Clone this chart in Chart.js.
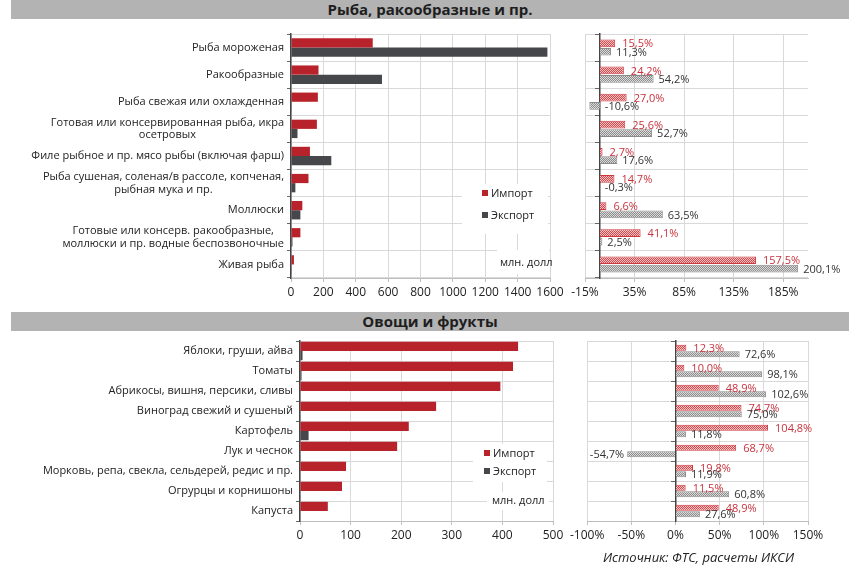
<!DOCTYPE html>
<html>
<head>
<meta charset="utf-8">
<script src="https://cdn.jsdelivr.net/npm/chart.js@4.4.1/dist/chart.umd.min.js"></script>
<style>
  body { margin: 0; background: #fff; font-family: "Open Sans", sans-serif; }
  #page { position: relative; width: 854px; height: 581px; overflow: hidden; }
  canvas { position: absolute; }
  .band { position: absolute; left: 11px; width: 838px; height: 19px; background: #b3b3b3;
          font-weight: bold; font-size: 15px; color: #1e1e1e; text-align: center; line-height: 19px; }
  .cover { position: absolute; background: #fff; }
  .leg { position: absolute; font-size: 11px; line-height: 16px; color: #222; white-space: nowrap; }
  .leg i { display: inline-block; width: 6px; height: 6px; margin-right: 3px; vertical-align: 1px; }
  .source { position: absolute; left: 603px; top: 548px; font-style: italic; font-size: 13px; color: #222; }
</style>
</head>
<body>
<div id="page">
  <div class="band" style="top:0">Рыба, ракообразные и пр.</div>
  <div class="band" style="top:312px">Овощи и фрукты</div>

  <canvas id="fishValue" width="570" height="276" style="left:0;top:28px"></canvas>
  <canvas id="fishGrowth" width="287" height="276" style="left:567px;top:28px"></canvas>
  <canvas id="vegValue" width="570" height="215" style="left:0;top:333px"></canvas>
  <canvas id="vegGrowth" width="287" height="215" style="left:567px;top:333px"></canvas>

  <!-- легенды и подписи внутри области графика -->
  <div class="cover" style="left:462px;top:184px;width:86px;height:50px"></div>
  <div class="leg" style="left:482px;top:185px"><i style="background:#b8232b"></i>Импорт</div>
  <div class="leg" style="left:482px;top:207px"><i style="background:#46474b"></i>Экспорт</div>
  <div class="cover" style="left:497px;top:250px;width:52px;height:24px"></div>
  <div class="leg" style="left:500px;top:254px">млн. долл</div>

  <div class="cover" style="left:473px;top:444px;width:74px;height:38px"></div>
  <div class="leg" style="left:484px;top:445px"><i style="background:#b8232b"></i>Импорт</div>
  <div class="leg" style="left:484px;top:463px"><i style="background:#46474b"></i>Экспорт</div>
  <div class="cover" style="left:487px;top:492px;width:62px;height:18px"></div>
  <div class="leg" style="left:492px;top:492px">млн. долл</div>

  <div class="source">Источник: ФТС, расчеты ИКСИ</div>
</div>

<script>
// --- данные ---
const fishCats = [
  "Рыба мороженая",
  "Ракообразные",
  "Рыба свежая или охлажденная",
  ["Готовая или консервированная рыба, икра", "осетровых"],
  "Филе рыбное и пр. мясо рыбы (включая фарш)",
  ["Рыба сушеная, соленая/в рассоле, копченая,", "рыбная мука и пр."],
  "Моллюски",
  ["Готовые или консерв. ракообразные,", "моллюски и пр. водные беспозвоночные"],
  "Живая рыба"
];
const fishImport = [505, 170, 166, 160, 117, 108, 70, 58, 18];
const fishExport = [1584, 562, 2, 40, 249, 27, 58, 9, 4];
const fishImportGrowth = [15.5, 24.2, 27.0, 25.6, 2.7, 14.7, 6.6, 41.1, 157.5];
const fishExportGrowth = [11.3, 54.2, -10.6, 52.7, 17.6, -0.3, 63.5, 2.5, 200.1];
const fishValueTicks = [0, 200, 400, 600, 800, 1000, 1200, 1400, 1600];
const fishGrowthTicks = [-15, 35, 85, 135, 185];

const vegCats = [
  "Яблоки, груши, айва",
  "Томаты",
  "Абрикосы, вишня, персики, сливы",
  "Виноград свежий и сушеный",
  "Картофель",
  "Лук и чеснок",
  "Морковь, репа, свекла, сельдерей, редис и пр.",
  "Огрурцы и корнишоны",
  "Капуста"
];
const vegImport = [431, 421, 396, 269, 215, 192, 91, 83, 55];
const vegExport = [5, 3, 1, 1, 17, 1, 1, 1, 1];
const vegImportGrowth = [12.3, 10.0, 48.9, 74.7, 104.8, 68.7, 19.8, 11.5, 48.9];
const vegExportGrowth = [72.6, 98.1, 102.6, 75.0, 11.8, -54.7, 11.9, 60.8, 27.6];
const vegValueTicks = [0, 100, 200, 300, 400, 500];
const vegGrowthTicks = [-100, -50, 0, 50, 100, 150];

const RED = "#b8232b";
const DARK = "#46474b";
const GRID = "#d9d9d9";

Chart.defaults.font.family = '"Open Sans", sans-serif';
Chart.defaults.color = "#222";

// штриховка для столбцов прироста
function makePattern(bg, fg) {
  const c = document.createElement("canvas");
  c.width = c.height = 2;
  const x = c.getContext("2d");
  x.fillStyle = bg;
  x.fillRect(0, 0, 2, 2);
  x.fillStyle = fg;
  x.fillRect(0, 0, 1, 1);
  x.fillRect(1, 1, 1, 1);
  return x.createPattern(c, "repeat");
}

const fmtPct = (v) => v.toFixed(1).replace(".", ",") + "%";

// подписи категорий: блок прижат вправо, строки внутри блока по центру (как в Excel)
const catLabels = {
  id: "catLabels",
  afterDraw(chart) {
    const ctx = chart.ctx;
    const y = chart.scales.y;
    const right = y.right - 7;
    ctx.save();
    ctx.font = '11px "Open Sans", sans-serif';
    ctx.fillStyle = "#222";
    ctx.textAlign = "center";
    ctx.textBaseline = "middle";
    chart.data.labels.forEach((lab, i) => {
      const lines = Array.isArray(lab) ? lab : [lab];
      const w = Math.max(...lines.map((l) => ctx.measureText(l).width));
      const cy = y.getPixelForTick(i);
      const lh = 12.5;
      lines.forEach((l, k) => {
        ctx.fillText(l, right - w / 2, cy + (k - (lines.length - 1) / 2) * lh);
      });
    });
    ctx.restore();
  }
};

// подписи значений у столбцов прироста
const growthLabels = {
  id: "growthLabels",
  afterDatasetsDraw(chart) {
    const ctx = chart.ctx;
    ctx.save();
    ctx.font = '11px "Open Sans", sans-serif';
    ctx.textBaseline = "middle";
    chart.data.datasets.forEach((ds, i) => {
      chart.getDatasetMeta(i).data.forEach((bar, j) => {
        const v = ds.data[j];
        ctx.fillStyle = ds.labelColor;
        if (v < -20) {
          ctx.textAlign = "right";
          ctx.fillText(fmtPct(v), bar.x - 3, bar.y + 1);
        } else {
          ctx.textAlign = "left";
          ctx.fillText(fmtPct(v), Math.max(bar.x, bar.base) + ds.labelGap, bar.y + 1);
        }
      });
    });
    ctx.restore();
  }
};

function valueChart(id, cats, imp, exp, ticks, catPct, yWidth, pad) {
  return new Chart(document.getElementById(id), {
    type: "bar",
    data: {
      labels: cats,
      datasets: [
        { label: "Импорт", data: imp, backgroundColor: RED, barPercentage: 1, categoryPercentage: catPct },
        { label: "Экспорт", data: exp, backgroundColor: DARK, barPercentage: 1, categoryPercentage: catPct }
      ]
    },
    options: {
      indexAxis: "y",
      responsive: false,
      animation: false,
      layout: { padding: pad },
      plugins: { legend: { display: false }, tooltip: { enabled: false } },
      scales: {
        x: {
          min: ticks[0],
          max: ticks[ticks.length - 1],
          afterBuildTicks: (s) => { s.ticks = ticks.map((v) => ({ value: v })); },
          grid: { color: GRID, tickLength: 4, tickColor: "#bfbfbf" },
          border: { color: "#bfbfbf" },
          ticks: { font: { size: 12 }, padding: 3, maxRotation: 0, callback: (v) => String(v) },
          afterFit: (s) => { s.height = 22; }
        },
        y: {
          grid: { color: GRID, tickLength: 4, tickColor: "#666" },
          border: { color: "#444", width: 1.5 },
          ticks: { display: false },
          afterFit: (s) => { s.width = yWidth; }
        }
      }
    },
    plugins: [catLabels]
  });
}

function growthChart(id, imp, exp, ticks, min, max, catPct, pad) {
  const ctx = document.getElementById(id);
  return new Chart(ctx, {
    type: "bar",
    data: {
      labels: imp.map((_, i) => i),
      datasets: [
        {
          label: "Импорт", data: imp,
          backgroundColor: makePattern("#f3c2c2", "#d4484e"), borderColor: "#cc3a40", borderWidth: 1,
          barPercentage: 0.92, categoryPercentage: catPct, labelColor: "#c8323c", labelGap: 7
        },
        {
          label: "Экспорт", data: exp,
          backgroundColor: makePattern("#dadada", "#8c8c8c"), borderColor: "#8a8a8a", borderWidth: 1,
          barPercentage: 0.92, categoryPercentage: catPct, labelColor: "#333", labelGap: 5
        }
      ]
    },
    options: {
      indexAxis: "y",
      responsive: false,
      animation: false,
      layout: { padding: pad },
      plugins: { legend: { display: false }, tooltip: { enabled: false } },
      scales: {
        x: {
          min: min,
          max: max,
          afterBuildTicks: (s) => { s.ticks = ticks.map((v) => ({ value: v })); },
          grid: { color: GRID, tickLength: 4, tickColor: "#bfbfbf" },
          border: { color: "#bfbfbf" },
          ticks: { font: { size: 12 }, padding: 3, maxRotation: 0, callback: (v) => v + "%" },
          afterFit: (s) => { s.height = 22; }
        },
        y: {
          position: { x: 0 },
          grid: { color: GRID, tickLength: 4, tickColor: "#666" },
          border: { color: "#444", width: 1.5 },
          ticks: { display: false }
        }
      }
    },
    plugins: [growthLabels]
  });
}

valueChart("fishValue", fishCats, fishImport, fishExport, fishValueTicks, 0.68, 291,
  { top: 6, right: 20, bottom: 4, left: 0 });
valueChart("vegValue", vegCats, vegImport, vegExport, vegValueTicks, 0.92, 300,
  { top: 8, right: 17, bottom: 5, left: 0 });
growthChart("fishGrowth", fishImportGrowth, fishExportGrowth, fishGrowthTicks, -15, 210, 0.62,
  { top: 6, right: 46, bottom: 4, left: 18 });
growthChart("vegGrowth", vegImportGrowth, vegExportGrowth, vegGrowthTicks, -100, 150, 0.66,
  { top: 8, right: 46, bottom: 5, left: 18 });
</script>
</body>
</html>
